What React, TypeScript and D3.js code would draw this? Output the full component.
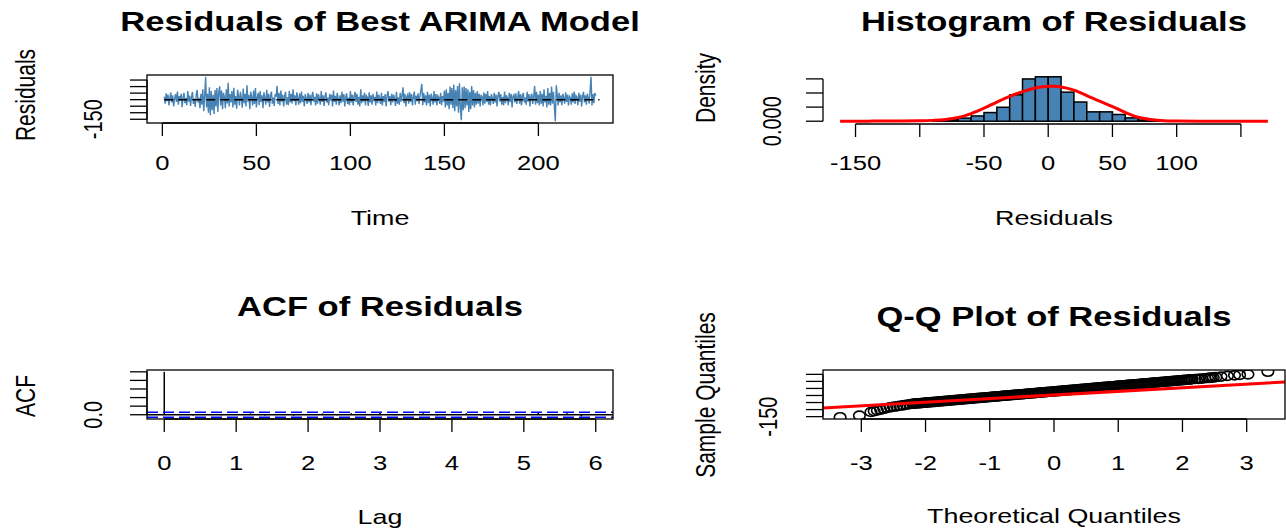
import React from 'react';
import * as d3 from 'd3';

// the source picture is stretched sideways, so text and circles are too
const SX = 1.28;
const FONT = '"Liberation Sans", Arial, Helvetica, sans-serif';
const BLUE = '#4682B4';

// residuals of the model, two per time unit starting at t = 1
const residStep = 0.5;
const residuals = [
  22, -30, 48, -12, 38, -45, 15, 55, -22, 33, -52, 8, 42, -18, 62, -38, 27, -8, 45, -58,
  18, 52, -27, 12, -42, 66, -15, 30, -48, 22, 60, -33, 9, -56, 38, 74, -22, 15, -66, 45,
  -38, 80, -88, 30, 175, -60, 45, -100, 95, -120, 66, -80, 38, -110, 74, -52, 88, -95, 60, 102,
  -45, 70, -74, 52, 22, -66, 80, -30, 130, -52, 42, -22, 66, -60, 90, -38, 27, -70, 76, 30,
  -45, 60, 15, -62, 85, -27, 45, -52, 110, -15, 38, -74, 60, 22, -45, 70, -33, 88, -60, 18,
  52, -42, 66, -18, 33, -66, 56, 12, -38, 76, -22, 45, -56, 30, 62, -30, 15, -48, 42, 22,
  105, -33, 52, -45, 70, -15, 38, -52, 27, 60, -38, 18, -42, 66, -22, 45, -30, 80, -12, 33,
  -45, 56, 15, -38, 48, -27, 62, -18, 30, -52, 42, 12, -33, 52, -22, 38, -42, 27, 60, -15,
  22, -45, 48, -30, 42, 8, -38, 66, -18, 33, -48, 27, 56, -22, 15, -42, 45, -8, 38, -52,
  70, -18, 30, -38, 52, 12, -45, 33, -27, 60, -15, 42, -52, 22, 48, -33, 15, -42, 66, -22,
  38, -45, 27, 60, -18, 45, -38, 22, -52, 80, -27, 33, -15, 52, -42, 30, 18, -48, 56, -22,
  33, -38, 45, -12, 22, -45, 62, -27, 38, 15, -33, 52, -45, 27, -18, 42, -52, 30, 66, -15,
  27, -42, 45, -22, 38, 8, -48, 60, -30, 18, -38, 52, -15, 33, 95, -27, 45, -52, 22, 38,
  -30, 56, -18, 42, -45, 22, 62, -38, 30, -12, 48, -33, 27, 74, 120, -42, 52, -22, 33, -45,
  60, -27, 38, -52, 45, 15, -38, 66, -22, 42, -45, 30, 18, -33, 52, -42, 27, -15, 70, -60,
  80, -45, 52, -74, 100, -38, 88, -66, 115, -88, 74, -52, 105, -100, 125, -60, -158, 95, -80, 100,
  -66, 88, -45, 80, -95, 60, -74, 105, -45, 74, -60, 52, -38, 66, -30, 45, -52, 38, 22, -42,
  56, -30, 45, -18, 66, -38, 27, -45, 42, 15, -33, 52, -22, 38, -52, 30, 60, -15, 42, -38,
  22, -45, 62, -27, 33, 12, -42, 52, -18, 45, -60, 27, 38, -22, 48, -33, 18, 66, -30, 42,
  -45, 30, 52, -22, 15, -38, 60, -15, 42, -52, 27, 45, -33, 22, 105, -38, 60, -27, 38, -45,
  66, -30, 45, -52, 80, -22, 30, -60, 88, -38, 52, -45, 100, -30, 60, -52, -165, 110, 38, -45,
  52, -22, 33, -42, 45, 12, -30, 56, -18, 38, -45, 27, 15, -38, 48, -22, 62, -33, 30, 18,
  -42, 52, -15, 38, -52, 27, 60, -22, 33, -38, 45, 15, -30, 66, 175, -45, 42, -27, 52, 30,
];
const timeTicks = [0, 50, 100, 150, 200];
const residTicks = [-150, -100, -50, 0, 50, 100, 150];
const residLabels = [-150];

// histogram
const nObs = 1175;
const histBreaks = [-100, -90, -80, -70, -60, -50, -40, -30, -20, -10, 0, 10, 20, 30, 40, 50, 60, 70, 80, 90, 100, 110];
const histCounts = [0, 1, 6, 13, 22, 36, 58, 110, 176, 185, 185, 121, 80, 39, 39, 28, 14, 5, 2, 1, 0];
const densityX = [-162, -140, -120, -100, -90, -80, -70, -60, -50, -40, -30, -20, -10, 0, 5, 10, 20, 30, 40, 50, 60, 70, 80, 90, 100, 120, 140, 171];
const densityY = [0, 0.00003, 0.00008, 0.00016, 0.0003, 0.0006, 0.0013, 0.0027, 0.0046, 0.0068, 0.0088, 0.0105, 0.0118, 0.0124, 0.0124, 0.0121, 0.011, 0.0091, 0.0071, 0.0052, 0.0031, 0.0014, 0.0006, 0.0002, 0.0001, 0.00003, 0.00002, 0];
const histXTicks = [-150, -100, -50, 0, 50, 100, 150];
const histXLabels = [-150, -50, 0, 50, 100];
const densityTicks = [0, 0.005, 0.01, 0.015];

// autocorrelation, lag 0 first, 5 lags per unit
const acfFreq = 5;
const acfValues = [
  1, 0.01, -0.02, 0.015, -0.01, 0.005, 0.03, -0.015, 0.01, -0.02, 0.005,
  0.03, -0.01, 0.035, 0.02, 0.04, -0.01, 0.005, 0.035, -0.015, 0.01,
  0.035, -0.02, 0.01, -0.005, 0.015, 0.04, -0.01, 0.035, -0.04, 0.01,
];
const acfCI = 0.057;
const lagTicks = [0, 1, 2, 3, 4, 5, 6];
const acfTicks = [0, 0.2, 0.4, 0.6, 0.8, 1];

// normal Q-Q: theoretical and sample quantiles
const qqTheoretical = [
  -3.33, -3.03, -2.85, -2.8, -2.75, -2.7, -2.65, -2.6, -2.55, -2.5, -2.45, -2.4, -2.35, -2.3, -2.25,
  -2.2, -2.175, -2.15, -2.125, -2.1, -2.075, -2.05, -2.025, -2, -1.975, -1.95, -1.925, -1.9, -1.875,
  -1.85, -1.825, -1.8, -1.775, -1.75, -1.725, -1.7, -1.675, -1.65, -1.625, -1.6, -1.575, -1.55, -1.525,
  -1.5, -1.475, -1.45, -1.425, -1.4, -1.375, -1.35, -1.325, -1.3, -1.275, -1.25, -1.225, -1.2, -1.175,
  -1.15, -1.125, -1.1, -1.075, -1.05, -1.025, -1, -0.975, -0.95, -0.925, -0.9, -0.875, -0.85, -0.825,
  -0.8, -0.775, -0.75, -0.725, -0.7, -0.675, -0.65, -0.625, -0.6, -0.575, -0.55, -0.525, -0.5, -0.475,
  -0.45, -0.425, -0.4, -0.375, -0.35, -0.325, -0.3, -0.275, -0.25, -0.225, -0.2, -0.175, -0.15, -0.125,
  -0.1, -0.075, -0.05, -0.025, 0, 0.025, 0.05, 0.075, 0.1, 0.125, 0.15, 0.175, 0.2, 0.225, 0.25, 0.275,
  0.3, 0.325, 0.35, 0.375, 0.4, 0.425, 0.45, 0.475, 0.5, 0.525, 0.55, 0.575, 0.6, 0.625, 0.65, 0.675,
  0.7, 0.725, 0.75, 0.775, 0.8, 0.825, 0.85, 0.875, 0.9, 0.925, 0.95, 0.975, 1, 1.025, 1.05, 1.075,
  1.1, 1.125, 1.15, 1.175, 1.2, 1.225, 1.25, 1.275, 1.3, 1.325, 1.35, 1.375, 1.4, 1.425, 1.45, 1.475,
  1.5, 1.525, 1.55, 1.575, 1.6, 1.625, 1.65, 1.675, 1.7, 1.725, 1.75, 1.775, 1.8, 1.825, 1.85, 1.875,
  1.9, 1.925, 1.95, 1.975, 2, 2.025, 2.05, 2.075, 2.1, 2.125, 2.15,
  2.2, 2.25, 2.3, 2.35, 2.39, 2.42, 2.45, 2.48, 2.52, 2.6, 2.7, 2.81, 2.89, 3.02, 3.33,
];
const qqSample = [
  -154, -143, -117, -112, -106, -100, -95, -89, -84, -80, -77, -73, -70, -66, -62,
  -59, -58, -57, -56, -55, -54, -53, -52, -51, -50, -49, -48, -47, -46,
  -45, -44, -43, -42, -41, -40, -39, -38, -37, -36, -35, -34, -33, -32,
  -31, -30, -29, -28, -27, -26, -25, -24, -23, -22, -21, -20, -19, -18,
  -17, -16, -15, -14, -13, -12, -11, -10, -9, -8, -7, -6, -5, -4,
  -3, -2, -1, 0, 1, 2, 3, 4, 5, 6, 7, 8, 9, 10,
  11, 12, 13, 14, 15, 16, 17, 18, 19, 20, 21, 22, 23, 24,
  25, 26, 27, 28, 29, 30, 31, 32, 33, 34, 35, 36, 37, 38, 39, 40,
  41, 42, 43, 44, 45, 46, 47, 48, 49, 50, 51, 52, 53, 54, 55, 56,
  57, 58, 59, 60, 61, 62, 63, 64, 65, 66, 67, 68, 69, 70, 71, 72,
  73, 74, 75, 76, 77, 78, 79, 80, 81, 82, 83, 84, 85, 86, 87, 88,
  89, 90, 91, 92, 93, 94, 95, 96, 97, 98, 99, 100, 101, 102, 103, 104,
  105, 106, 107, 108, 109, 110, 111, 112, 113, 114, 115,
  117, 118, 120, 122, 124, 125, 127, 128, 130, 134, 139, 143, 146, 150, 168,
];
const qqIntercept = 3.5;
const qqSlope = 25.6;
const qqXTicks = [-3, -2, -1, 0, 1, 2, 3];
const qqYTicks = [-150, -100, -50, 0, 50, 100, 150];

// panel boxes
const leftX = [147, 613];
const rightX = [823, 1285];
const topY = [123, 75];
const botY = [419, 370];
const TICK_V = 13;
const TICK_H = 17;

const padded = (lo: number, hi: number) => {
  const p = 0.04 * (hi - lo);
  return [lo - p, hi + p];
};

function Txt({ x, y, text, size = 20, bold = false, rot = false }: any) {
  const tf = `translate(${x},${y}) scale(${SX},1)${rot ? ' rotate(-90)' : ''}`;
  return (
    <text transform={tf} textAnchor="middle" dy={rot ? '0.35em' : undefined}
      fontSize={size} fontWeight={bold ? 'bold' : 'normal'} fontFamily={FONT} fill="#000">
      {text}
    </text>
  );
}

function XAxis({ scale, ticks, labels, y, labelY }: any) {
  const [a, b] = [scale(ticks[0]), scale(ticks[ticks.length - 1])];
  return (
    <g stroke="#000" strokeWidth={1.3}>
      <line x1={a} x2={b} y1={y} y2={y} />
      {ticks.map((t: number) => (
        <line key={t} x1={scale(t)} x2={scale(t)} y1={y} y2={y + TICK_V} />
      ))}
      <g stroke="none">
        {labels.map((t: number) => (
          <Txt key={t} x={scale(t)} y={labelY} text={String(t)} />
        ))}
      </g>
    </g>
  );
}

function YAxis({ scale, ticks, labels, x, labelX }: any) {
  const [a, b] = [scale(ticks[0]), scale(ticks[ticks.length - 1])];
  return (
    <g stroke="#000" strokeWidth={1.3}>
      <line x1={x} x2={x} y1={a} y2={b} />
      {ticks.map((t: number) => (
        <line key={t} x1={x - TICK_H} x2={x} y1={scale(t)} y2={scale(t)} />
      ))}
      <g stroke="none">
        {labels.map((l: any) => (
          <Txt key={l.text} x={labelX} y={scale(l.value)} text={l.text} rot />
        ))}
      </g>
    </g>
  );
}

function ResidualPanel() {
  const times = residuals.map((_, i) => 1 + i * residStep);
  const t1 = times[times.length - 1];
  const x = d3.scaleLinear().domain(padded(1, t1)).range(leftX);
  const [lo, hi] = d3.extent(residuals) as [number, number];
  const y = d3.scaleLinear().domain(padded(lo, hi)).range(topY);
  const path = d3.line<number>().x((_, i) => x(times[i])).y((d) => y(d))(residuals) || '';
  return (
    <g>
      <path d={path} fill="none" stroke={BLUE} strokeWidth={1.4} />
      <line x1={x(1)} x2={x(t1 + 2)} y1={y(0)} y2={y(0)} stroke="#000" strokeWidth={1.5} strokeDasharray="9,5" />
      <rect x={leftX[0]} y={topY[1]} width={leftX[1] - leftX[0]} height={topY[0] - topY[1]} fill="none" stroke="#000" strokeWidth={1.3} />
      <XAxis scale={x} ticks={timeTicks} labels={timeTicks} y={topY[0]} labelY={170} />
      <YAxis scale={y} ticks={residTicks} labels={residLabels.map((v) => ({ value: v, text: String(v) }))} x={leftX[0]} labelX={93} />
      <Txt x={(leftX[0] + leftX[1]) / 2} y={31} text="Residuals of Best ARIMA Model" size={27} bold />
      <Txt x={(leftX[0] + leftX[1]) / 2} y={225} text="Time" size={21} />
      <Txt x={26} y={95} text="Residuals" size={21} rot />
    </g>
  );
}

function HistPanel() {
  const x = d3.scaleLinear().domain(padded(densityX[0], densityX[densityX.length - 1])).range(rightX);
  const dens = histCounts.map((c) => c / (nObs * (histBreaks[1] - histBreaks[0])));
  const maxD = d3.max(dens) as number;
  const y = d3.scaleLinear().domain(padded(0, maxD)).range(topY);
  const curve = d3.line<number>().x((d) => x(d)).y((_, i) => y(densityY[i])).curve(d3.curveMonotoneX)(densityX) || '';
  return (
    <g>
      {dens.map((d, i) => (
        <rect key={i} x={x(histBreaks[i])} width={x(histBreaks[i + 1]) - x(histBreaks[i])}
          y={y(d)} height={y(0) - y(d)} fill={BLUE} stroke="#000" strokeWidth={1.5} />
      ))}
      <path d={curve} fill="none" stroke="#ff0000" strokeWidth={3} />
      <XAxis scale={x} ticks={histXTicks} labels={histXLabels} y={topY[0] + 1} labelY={170} />
      <YAxis scale={y} ticks={densityTicks} labels={[{ value: 0, text: '0.000' }]} x={rightX[0]} labelX={772} />
      <Txt x={(rightX[0] + rightX[1]) / 2} y={31} text="Histogram of Residuals" size={27} bold />
      <Txt x={(rightX[0] + rightX[1]) / 2} y={225} text="Residuals" size={21} />
      <Txt x={706} y={88} text="Density" size={21} rot />
    </g>
  );
}

function AcfPanel() {
  const lags = acfValues.map((_, i) => i / acfFreq);
  const x = d3.scaleLinear().domain(padded(0, lags[lags.length - 1])).range(leftX);
  const lo = Math.min(d3.min(acfValues) as number, -acfCI);
  const y = d3.scaleLinear().domain(padded(lo, 1)).range(botY);
  return (
    <g>
      <line x1={leftX[0]} x2={leftX[1]} y1={y(0)} y2={y(0)} stroke="#000" strokeWidth={1.3} />
      {acfValues.map((v, i) => (
        <line key={i} x1={x(lags[i])} x2={x(lags[i])} y1={y(0)} y2={y(v)} stroke="#000" strokeWidth={1.5} />
      ))}
      {[acfCI, -acfCI].map((c) => (
        <line key={c} x1={leftX[0]} x2={leftX[1]} y1={y(c)} y2={y(c)} stroke="#0000ff" strokeWidth={1.5} strokeDasharray="11,5" />
      ))}
      <rect x={leftX[0]} y={botY[1]} width={leftX[1] - leftX[0]} height={botY[0] - botY[1]} fill="none" stroke="#000" strokeWidth={1.3} />
      <XAxis scale={x} ticks={lagTicks} labels={lagTicks} y={botY[0]} labelY={470} />
      <YAxis scale={y} ticks={acfTicks} labels={[{ value: 0, text: '0.0' }]} x={leftX[0]} labelX={93} />
      <Txt x={(leftX[0] + leftX[1]) / 2} y={316} text="ACF of Residuals" size={27} bold />
      <Txt x={(leftX[0] + leftX[1]) / 2} y={524} text="Lag" size={21} />
      <Txt x={26} y={396} text="ACF" size={21} rot />
    </g>
  );
}

function QQPanel() {
  const x = d3.scaleLinear().domain(padded(qqTheoretical[0], qqTheoretical[qqTheoretical.length - 1])).range(rightX);
  const [lo, hi] = d3.extent(qqSample) as [number, number];
  const y = d3.scaleLinear().domain(padded(lo, hi)).range(botY);
  const [d0, d1] = x.domain();
  const r = 4.5;
  return (
    <g>
      <defs>
        <clipPath id="qqclip">
          <rect x={rightX[0]} y={botY[1]} width={rightX[1] - rightX[0]} height={botY[0] - botY[1]} />
        </clipPath>
      </defs>
      <g clipPath="url(#qqclip)">
        {qqTheoretical.map((q, i) => (
          <ellipse key={i} cx={x(q)} cy={y(qqSample[i])} rx={r * SX} ry={r} fill="none" stroke="#000" strokeWidth={1.6} />
        ))}
        <line x1={x(d0)} x2={x(d1)} y1={y(qqIntercept + qqSlope * d0)} y2={y(qqIntercept + qqSlope * d1)} stroke="#ff0000" strokeWidth={3} />
      </g>
      <rect x={rightX[0]} y={botY[1]} width={rightX[1] - rightX[0]} height={botY[0] - botY[1]} fill="none" stroke="#000" strokeWidth={1.3} />
      <XAxis scale={x} ticks={qqXTicks} labels={qqXTicks} y={botY[0]} labelY={470} />
      <YAxis scale={y} ticks={qqYTicks} labels={[{ value: -150, text: '-150' }]} x={rightX[0]} labelX={768} />
      <Txt x={(rightX[0] + rightX[1]) / 2} y={326} text="Q-Q Plot of Residuals" size={27} bold />
      <Txt x={(rightX[0] + rightX[1]) / 2} y={523} text="Theoretical Quantiles" size={21} />
      <Txt x={706} y={395} text="Sample Quantiles" size={21} rot />
    </g>
  );
}

export default function App() {
  return (
    <svg width={1286} height={528} style={{ position: 'absolute', left: 0, top: 0, background: '#fff' }}>
      <ResidualPanel />
      <HistPanel />
      <AcfPanel />
      <QQPanel />
    </svg>
  );
}
